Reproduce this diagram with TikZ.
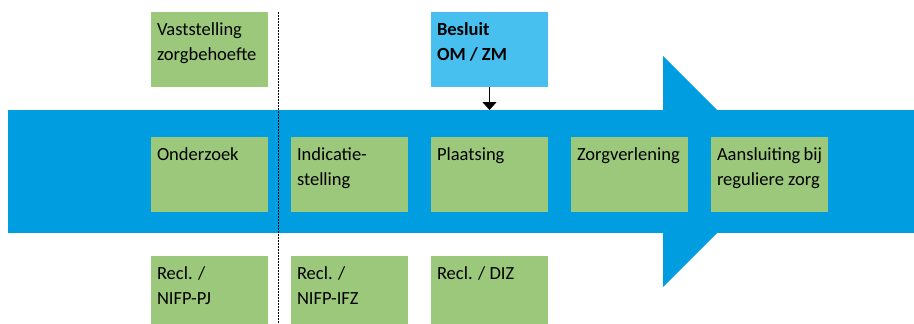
\documentclass[tikz,border=0pt]{standalone}
\usepackage{fontspec}
\setmainfont{Carlito}
\usetikzlibrary{positioning,
                arrows.meta}
\definecolor{stapgroen}{RGB}{155,200,122}
\definecolor{stroomblauw}{RGB}{0,158,224}
\definecolor{besluitblauw}{RGB}{71,192,240}
\newcommand{\staptekst}[1]{\parbox[t][63pt][t]{105pt}{\raggedright\strut#1}}

\begin{document}
\begin{tikzpicture}[x=1pt,y=1pt,
  font=\fontsize{18.5}{25}\selectfont,
  stapbox/.style={fill=stapgroen,inner sep=6pt,outer sep=0pt},
  besluitbox/.style={stapbox,fill=besluitblauw},
  scheidingslijn/.style={black,line width=1.6pt,dash pattern=on 1.6pt off 1.4pt},
  node distance=23pt]
 \useasboundingbox (0,0) rectangle (914,-324);
 \clip (0,0) rectangle (914,-324);
 % de stroom
 \fill[stroomblauw] (8,-110) rectangle (914,-233);
 \fill[stroomblauw] (663,-56) -- (778.5,-171.5) -- (663,-287) -- cycle;
 \coordinate (stroomboven) at (0,-110);
 % stappen
 \node[stapbox,anchor=north west] (onderzoek) at (151,-137) {\staptekst{Onderzoek}};
 \node[stapbox,right=of onderzoek] (indicatie) {\staptekst{Indicatie-\\stelling}};
 \node[stapbox,right=of indicatie] (plaatsing) {\staptekst{Plaatsing}};
 \node[stapbox,right=of plaatsing] (zorg) {\staptekst{Zorgverlening}};
 \node[stapbox,right=of zorg] (aansluiting) {\staptekst{Aansluiting~bij\\reguliere zorg}};
 % boven
 \node[stapbox,above=50pt of onderzoek] (vaststelling) {\staptekst{Vaststelling\\zorgbehoefte}};
 \node[besluitbox,above=50pt of plaatsing] (besluit) {\staptekst{\textbf{Besluit\\OM / ZM}}};
 % onder
 \node[stapbox,below=44pt of onderzoek] (reclpj) {\staptekst{Recl. /\\NIFP-PJ}};
 \node[stapbox,below=44pt of indicatie] (reclifz) {\staptekst{Recl. /\\NIFP-IFZ}};
 \node[stapbox,below=44pt of plaatsing] (recldiz) {\staptekst{Recl. / DIZ}};
 \draw[line width=1.3pt,-{Triangle[width=14pt,length=8pt]}] (besluit.south) -- (besluit.south |- stroomboven);
 \coordinate (scheiding) at (278.5,-12);
 \draw[scheidingslijn] (scheiding) -- (scheiding |- 0,-330);
\end{tikzpicture}
\end{document}
